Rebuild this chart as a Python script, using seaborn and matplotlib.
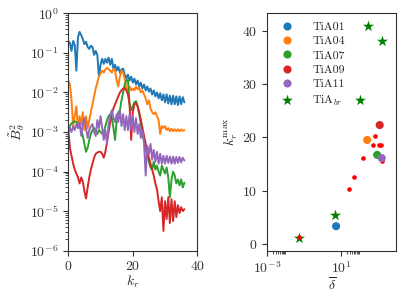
import numpy as np
import pandas as pd
import matplotlib
matplotlib.use("Agg")
import matplotlib.pyplot as plt
import seaborn as sns
from matplotlib.ticker import LogLocator, FixedLocator

# ========== DATA ==========
# left panel: spectra, read as log10(B_theta^2) at kr = 0, 0.5, ..., 36
kr = np.arange(0, 36.5, 0.5)

tia01_exp = [-0.70, -0.75, -0.95, -0.70, -0.80, -1.45, -0.60, -0.47, -0.55, -0.65,
             -0.78, -0.72, -0.85, -0.90, -0.82, -0.85, -1.05, -0.95, -1.05, -1.60,
             -1.30, -1.15, -1.28, -1.15, -1.25, -1.12, -1.30, -1.15, -1.40, -1.30,
             -1.45, -1.35, -1.50, -1.42, -1.40, -1.55, -1.65, -1.55, -1.70, -1.60,
             -1.75, -1.65, -1.80, -1.70, -1.85, -1.75, -1.90, -1.80, -1.95, -1.85,
             -1.98, -1.90, -2.05, -1.95, -2.10, -2.00, -2.15, -2.02, -2.20, -2.05,
             -2.25, -2.05, -2.28, -2.08, -2.30, -2.08, -2.30, -2.10, -2.32, -2.10,
             -2.30, -2.12, -2.25]

tia04_exp = [-1.70, -1.80, -2.20, -2.85, -2.60, -2.35, -2.90, -2.60, -2.80, -2.50,
             -2.95, -2.60, -2.90, -2.70, -2.50, -2.30, -2.10, -1.90, -1.75, -1.60,
             -1.52, -1.45, -1.50, -1.42, -1.38, -1.42, -1.45, -1.50, -1.40, -1.45,
             -1.70, -1.85, -1.60, -1.45, -1.50, -1.65, -1.90, -1.95, -1.85, -1.95,
             -1.90, -1.95, -1.85, -1.92, -1.88, -2.00, -1.95, -2.05, -2.15, -2.30,
             -2.20, -2.40, -2.50, -2.55, -2.50, -2.60, -2.70, -3.05, -2.85, -2.90,
             -2.85, -2.95, -2.90, -2.98, -2.92, -2.98, -2.93, -2.98, -2.93, -2.98,
             -2.93, -2.97, -2.95]

tia07_exp = [-3.03, -2.85, -2.78, -2.75, -2.73, -2.75, -2.80, -2.85, -2.95, -3.10,
             -3.30, -3.50, -3.40, -3.20, -3.05, -2.95, -2.90, -2.95, -3.05, -2.95,
             -3.00, -3.05, -3.00, -2.85, -2.70, -2.60, -2.55, -2.65, -2.90, -3.20,
             -2.70, -2.50, -2.45, -2.20, -2.00, -1.80, -1.70, -1.68, -2.30, -2.45,
             -2.35, -2.25, -2.22, -2.35, -2.55, -2.80, -3.00, -3.25, -3.45, -3.60,
             -3.75, -3.90, -3.95, -3.75, -3.95, -3.85, -4.00, -4.10, -3.85, -3.95,
             -4.05, -3.90, -4.15, -4.65, -4.20, -4.00, -4.10, -4.30, -4.20, -4.35,
             -4.20, -4.40, -4.28]

tia09_exp = [-2.95, -3.40, -3.60, -3.80, -3.95, -4.05, -4.15, -4.30, -4.15, -4.25,
             -4.50, -4.68, -4.40, -4.15, -3.95, -3.80, -3.65, -3.55, -3.52, -3.50,
             -3.50, -3.55, -3.65, -3.50, -3.25, -3.00, -2.75, -2.55, -2.40, -2.30,
             -2.20, -2.10, -2.00, -1.95, -1.90, -1.90, -1.95, -2.05, -2.30, -3.20,
             -2.50, -2.30, -2.27, -2.35, -2.50, -2.70, -2.90, -3.10, -3.30, -3.50,
             -3.65, -3.80, -3.95, -4.10, -4.30, -4.45, -4.75, -5.00, -4.65, -5.50,
             -4.75, -5.20, -4.65, -5.30, -4.70, -5.25, -4.75, -5.15, -4.85, -5.05,
             -4.90, -5.00, -4.95]

tia11_exp = [-3.00, -2.90, -3.00, -2.85, -2.95, -2.80, -2.90, -2.75, -3.10, -2.80,
             -2.65, -2.90, -3.15, -2.95, -2.85, -2.80, -3.00, -3.10, -2.70, -2.90,
             -2.60, -2.90, -3.20, -2.95, -3.30, -2.80, -2.60, -2.45, -2.65, -2.75,
             -2.55, -2.75, -2.45, -2.85, -2.55, -2.95, -2.60, -2.95, -2.55, -2.95,
             -2.60, -3.00, -2.65, -3.05, -2.80, -3.15, -2.95, -3.30, -4.10, -3.35,
             -3.55, -3.30, -3.70, -3.45, -3.75, -3.50, -3.80, -3.55, -3.80, -3.60,
             -3.80, -3.60, -3.78, -3.62, -3.80, -3.62, -3.80, -3.63, -3.78, -3.63,
             -3.77, -3.65, -3.72]

runs = ["TiA01", "TiA04", "TiA07", "TiA09", "TiA11"]

# right panel
run_delta = [5.4, 263, 912, 1260, 1620]
run_krmax = [3.3, 19.5, 16.7, 22.3, 16.1]

br_delta = [0.055, 5.0, 110, 282, 1620]
br_krmax = [1.0, 5.5, 27.1, 41.0, 38.1]

sub_delta = [0.055, 27.6, 53.5, 158, 513, 741, 1120, 1510, 1620]
sub_krmax = [1.26, 10.2, 12.6, 16.1, 18.5, 20.2, 18.6, 18.6, 15.5]

# ========== STYLE ==========
sns.set_style("ticks")
plt.rcParams["font.family"] = ["cmr10", "DejaVu Sans"]
plt.rcParams["mathtext.fontset"] = "cm"
plt.rcParams["axes.formatter.use_mathtext"] = True
plt.rcParams["font.size"] = 10
plt.rcParams["axes.edgecolor"] = "0.2"
plt.rcParams["axes.linewidth"] = 0.8
for ax_name in ["xtick", "ytick"]:
    plt.rcParams[f"{ax_name}.major.size"] = 3.5
    plt.rcParams[f"{ax_name}.minor.size"] = 2
    plt.rcParams[f"{ax_name}.major.width"] = 0.8
    plt.rcParams[f"{ax_name}.minor.width"] = 0.6
    plt.rcParams[f"{ax_name}.color"] = "0.2"
    plt.rcParams[f"{ax_name}.labelsize"] = 10

palette = dict(zip(runs, sns.color_palette("tab10", 5)))

spectra = pd.DataFrame({
    "kr": np.tile(kr, len(runs)),
    "B2": 10.0 ** np.concatenate([tia01_exp, tia04_exp, tia07_exp, tia09_exp, tia11_exp]),
    "run": np.repeat(runs, len(kr)),
})

fig, (ax1, ax2) = plt.subplots(1, 2, figsize=(4.07, 2.98), dpi=100)
fig.subplots_adjust(left=68.3 / 407, right=396.3 / 407, top=1 - 13.3 / 298,
                    bottom=1 - 250.7 / 298, wspace=0.543)

# ========== LEFT: SPECTRA ==========
sns.lineplot(data=spectra, x="kr", y="B2", hue="run", palette=palette,
             legend=False, lw=1.4, ax=ax1)
ax1.set_yscale("log")
ax1.set_ylim(1e-6, 1)
ax1.set_xlim(0, 40)
ax1.set_xticks([0, 20, 40])
ax1.yaxis.set_major_locator(LogLocator(base=10, numticks=10))
ax1.yaxis.set_minor_locator(LogLocator(base=10, subs=np.arange(2, 10), numticks=10))
ax1.set_xlabel(r"$k_r$", labelpad=0)
ax1.set_ylabel(r"$\tilde{B}_\theta^2$", labelpad=2)

# ========== RIGHT: K_MAX VS DELTA ==========
sns.scatterplot(x=br_delta, y=br_krmax, marker="*", s=70, color="green",
                linewidth=0, label=r"TiA$_{br}$", ax=ax2)
sns.scatterplot(x=sub_delta, y=sub_krmax, color="red", s=11, linewidth=0,
                legend=False, ax=ax2)
sns.scatterplot(x=run_delta, y=run_krmax, hue=runs, palette=palette, s=34,
                linewidth=0, ax=ax2)
ax2.set_xscale("log")
ax2.set_xlim(1e-3, 1e4)
ax2.set_ylim(-1.3, 43.3)
ax2.set_yticks([0, 10, 20, 30, 40])
ax2.xaxis.set_major_locator(FixedLocator([1e-3, 1e1]))
ax2.xaxis.set_minor_locator(FixedLocator(np.outer(np.arange(2, 10), [1e-3, 1e1]).ravel()))
ax2.set_xlabel(r"$\overline{\delta}$", labelpad=0)
ax2.set_ylabel(r"$k_r^{\max}$", labelpad=2)

handles, labels = ax2.get_legend_handles_labels()
order = [labels.index(r) for r in runs] + [labels.index(r"TiA$_{br}$")]
ax2.legend([handles[i] for i in order], [labels[i] for i in order],
           loc="upper left", frameon=False, fontsize=8.5, handletextpad=1.1,
           labelspacing=0.35, borderaxespad=0.3)

fig.savefig("out.png", dpi=100)
